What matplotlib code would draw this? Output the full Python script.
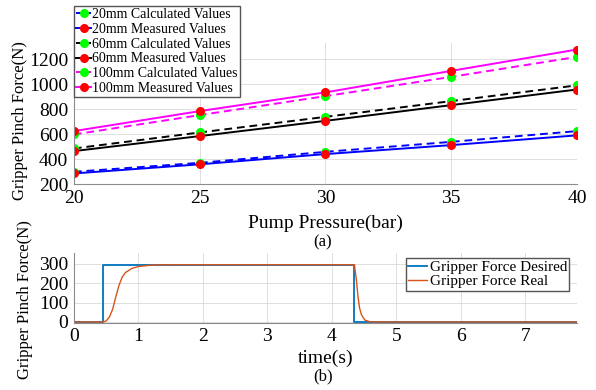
import matplotlib
matplotlib.use("Agg")
import matplotlib.pyplot as plt

plt.rcParams['font.family'] = ['Liberation Serif', 'DejaVu Serif']

# --------------------------------------
# Data (a): pinch force vs pump pressure
# --------------------------------------
pressure = [20, 25, 30, 35, 40]
calc_20 = [298, 370, 458, 538, 624]
meas_20 = [285, 358, 440, 512, 590]
calc_60 = [485, 613, 738, 864, 990]
meas_60 = [464, 584, 706, 832, 957]
calc_100 = [597, 752, 904, 1058, 1218]
meas_100 = [624, 784, 934, 1106, 1277]

# --------------------------------------
# Data (b): force step response
# --------------------------------------
t_desired = [0, 0.45, 0.45, 4.35, 4.35, 7.8]
f_desired = [0, 0, 295, 295, 0, 0]

t_real = [0, 0.45, 0.5, 0.55, 0.6, 0.65, 0.7, 0.75, 0.8, 0.9, 1.0,
          1.2, 1.5, 4.35, 4.38, 4.405, 4.43, 4.46, 4.51, 4.6, 7.8]
f_real = [0, 0, 5, 25, 65, 130, 190, 232, 255, 276, 286,
          293, 295, 295, 217, 131, 71, 36, 10, 0, 0]

fig = plt.figure(figsize=(5.96, 3.90), dpi=100)

grid_kw = dict(color='#d9d9d9', linewidth=0.6)
spine_col = '#8c8c8c'


def style_axes(ax):
    ax.grid(True, **grid_kw)
    ax.set_axisbelow(True)
    for s in ['top', 'right']:
        ax.spines[s].set_visible(False)
    for s in ['left', 'bottom']:
        ax.spines[s].set_color(spine_col)
        ax.spines[s].set_linewidth(0.8)
    ax.tick_params(length=0, labelsize=14, pad=4)


# --------------------------------------
# Top plot
# --------------------------------------
ax1 = fig.add_axes([0.124, 0.528, 0.844, 0.362])
series = [
    (calc_20, 'blue', '--', 'lime', '20mm Calculated Values'),
    (meas_20, 'blue', '-', 'red', '20mm Measured Values'),
    (calc_60, 'black', '--', 'lime', '60mm Calculated Values'),
    (meas_60, 'black', '-', 'red', '60mm Measured Values'),
    (calc_100, 'magenta', '--', 'lime', '100mm Calculated Values'),
    (meas_100, 'magenta', '-', 'red', '100mm Measured Values'),
]
for vals, lc, ls, mc, lab in series:
    ax1.plot(pressure, vals, color=lc, linestyle=ls, linewidth=1.4,
             marker='o', markersize=5.5, markerfacecolor=mc,
             markeredgecolor=mc, label=lab,
             dashes=(4, 2.5) if ls == '--' else (None, None))
ax1.set_xlim(20, 40)
ax1.set_ylim(200, 1330)
ax1.set_xticks([20, 25, 30, 35, 40])
ax1.set_yticks([200, 400, 600, 800, 1000, 1200])
style_axes(ax1)
ax1.set_xlabel('Pump Pressure(bar)', fontsize=14, labelpad=6)
ax1.set_ylabel('Gripper Pinch Force(N)', fontsize=12)
ax1.yaxis.set_label_coords(-0.091, 0.447)
ax1.legend(loc='upper left', bbox_to_anchor=(0.0, 1.262), fontsize=10,
           frameon=True, fancybox=False, edgecolor='#555555', framealpha=1,
           handlelength=1.1, handletextpad=0.05, borderpad=0.15,
           labelspacing=0.13, borderaxespad=0)
fig.text(0.542, 0.378, '(a)', fontsize=12, ha='center', va='center')

# --------------------------------------
# Bottom plot
# --------------------------------------
ax2 = fig.add_axes([0.124, 0.172, 0.844, 0.179])
ax2.plot(t_desired, f_desired, color='#0072BD', linewidth=1.3,
         label='Gripper Force Desired')
ax2.plot(t_real, f_real, color='#D95319', linewidth=1.0,
         label='Gripper Force Real')
ax2.set_xlim(0, 7.8)
ax2.set_ylim(-5, 355)
ax2.set_xticks(range(0, 8))
ax2.set_yticks([0, 100, 200, 300])
style_axes(ax2)
ax2.set_xlabel('time(s)', fontsize=14, labelpad=3)
ax2.set_ylabel('Gripper Pinch Force(N)', fontsize=12)
ax2.yaxis.set_label_coords(-0.081, 0.33)
ax2.legend(loc='upper right', bbox_to_anchor=(0.985, 0.93), fontsize=11,
           frameon=True, fancybox=False, edgecolor='#555555', framealpha=1,
           handlelength=1.2, handletextpad=0.2, borderpad=0.15,
           labelspacing=0.05, borderaxespad=0)
fig.text(0.542, 0.034, '(b)', fontsize=12, ha='center', va='center')

fig.savefig('out.png', dpi=100)
